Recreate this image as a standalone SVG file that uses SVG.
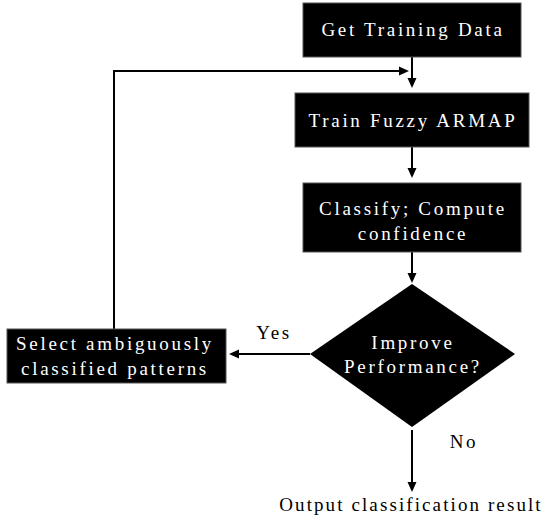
<svg xmlns="http://www.w3.org/2000/svg" width="548" height="519" viewBox="0 0 548 519">
<style>
.box{fill:#000;stroke:#555;stroke-width:1}
.t{font-family:"Liberation Serif","Times New Roman",serif;font-size:19px;letter-spacing:2.7px;text-anchor:middle}
.w{fill:#fff}
.k{fill:#000}
.c{fill:none;stroke:#000;stroke-width:2}
</style>
<defs>
<marker id="ah" markerUnits="userSpaceOnUse" markerWidth="10" markerHeight="10" refX="4" refY="5" orient="auto">
<path d="M0,0.5 L10,5 L0,9.5 z" fill="#000"/>
</marker>
</defs>
<g id="connectors">
<line class="c" x1="412" y1="57" x2="412" y2="82" marker-end="url(#ah)"/>
<polyline class="c" points="114,329 114,71 403,71" marker-end="url(#ah)"/>
<line class="c" x1="412" y1="147" x2="412" y2="172" marker-end="url(#ah)"/>
<line class="c" x1="412" y1="252" x2="412" y2="277" marker-end="url(#ah)"/>
<line class="c" x1="310" y1="354" x2="235" y2="354" marker-end="url(#ah)"/>
<line class="c" x1="412" y1="430" x2="412" y2="486" marker-end="url(#ah)"/>
<text class="t k" x="274" y="339">Yes</text>
<text class="t k" x="464" y="448">No</text>
</g>
<g id="get-data">
<rect class="box" x="303" y="3" width="218" height="54"/>
<text class="t w" x="413" y="36">Get Training Data</text>
</g>
<g id="train">
<rect class="box" x="295" y="93" width="234" height="54"/>
<text class="t w" x="413" y="127">Train Fuzzy ARMAP</text>
</g>
<g id="classify">
<rect class="box" x="303" y="183" width="218" height="69"/>
<text class="t w" x="413" y="215">Classify; Compute</text>
<text class="t w" x="413" y="240">confidence</text>
</g>
<g id="decision">
<polygon points="412,284 515,354 412,427 310,354" fill="#000"/>
<text class="t w" x="413" y="349">Improve</text>
<text class="t w" x="413" y="373">Performance?</text>
</g>
<g id="select">
<rect class="box" x="7" y="329" width="219" height="54"/>
<text class="t w" x="115" y="350">Select ambiguously</text>
<text class="t w" x="115" y="375">classified patterns</text>
</g>
<g id="output">
<text class="t k" x="411" y="511" style="letter-spacing:2.1px">Output classification result</text>
</g>
</svg>
